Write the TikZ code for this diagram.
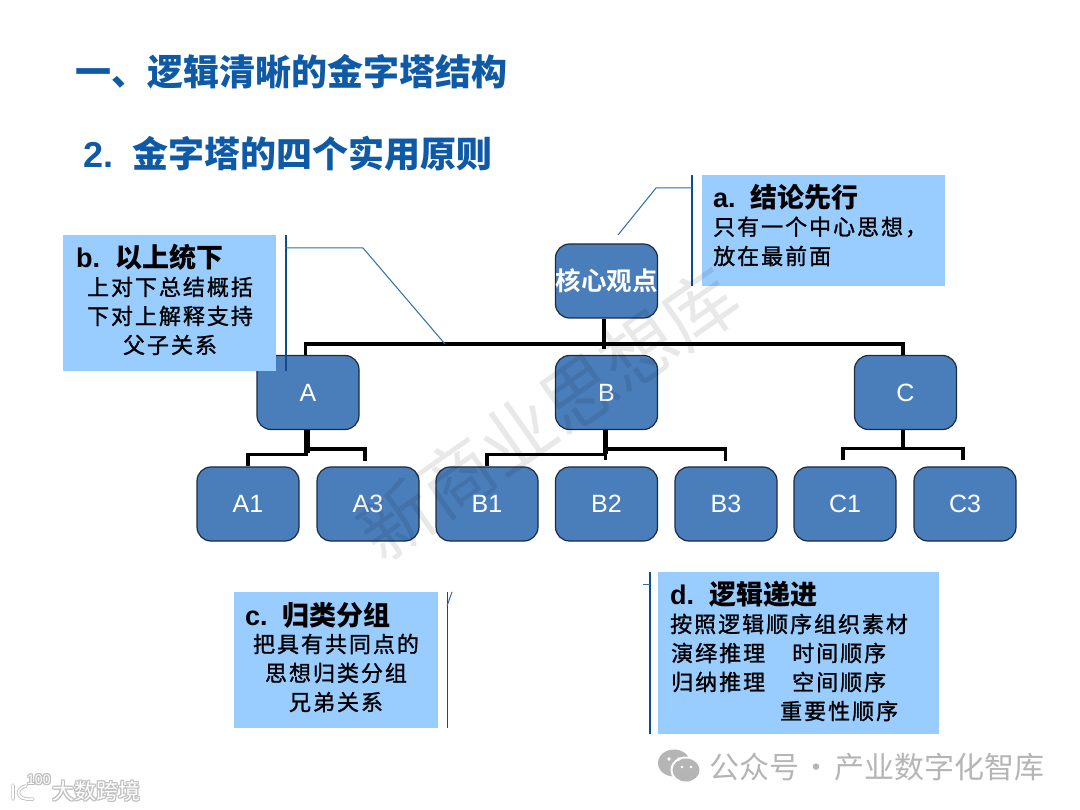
\documentclass[tikz,border=0pt]{standalone}
\usepackage{fontspec}
\setmainfont{Liberation Sans}
\newfontfamily\cjk{Noto Sans CJK SC}
\newfontfamily\cjkb{Noto Sans CJK SC Bold}
\newfontfamily\bodyf[LetterSpace=9,FakeBold=1.2]{Noto Sans CJK SC}
\definecolor{titleblue}{HTML}{0F5AA6}
\definecolor{boxblue}{HTML}{4A7EBB}
\definecolor{boxline}{HTML}{1C2B3F}
\definecolor{callblue}{HTML}{99CCFF}
\definecolor{barblue}{HTML}{2E6CA8}
\definecolor{wmgrey}{HTML}{B5B5B5}
\tikzset{
  x=1pt,y=-1pt,
  titletext/.style={anchor=west,inner sep=0,text=titleblue,font=\fontsize{36}{36}\selectfont\bfseries},
  orgbox/.style={draw=boxline,line width=1.2pt,fill=boxblue,rounded corners=14pt,minimum width=102pt,minimum height=74pt,inner sep=0,text=white,font=\fontsize{25}{25}\selectfont},
  callout/.style={fill=callblue,inner sep=0,anchor=north west},
  headtext/.style={anchor=west,inner sep=0,text=black,font=\fontsize{27}{27}\selectfont\bfseries},
  bodytext/.style={anchor=center,inner sep=0,text=black,font=\fontsize{22}{22}\selectfont\bodyf},
  treeline/.style={draw=black,line width=3.5pt,line cap=butt},
  thickstem/.style={draw=black,line width=5.5pt},
  leader/.style={draw=barblue,line width=1pt},
  bar/.style={draw=titleblue!85!black,line width=1.5pt},
}
\begin{document}
\begin{tikzpicture}
\useasboundingbox (0,0) rectangle (1080,810);
\fill[white] (0,0) rectangle (1080,810);
% titles
\node[titletext] (t1) at (75,72) {{\cjkb 一、逻辑清晰的金字塔结构}};
\node[titletext] (t2) at (83,154) {2.\hspace{19pt}{\cjkb 金字塔的四个实用原则}};
% org nodes
\node[orgbox] (root) at (606.5,281) {{\cjkb\fontsize{25.5}{25.5}\selectfont 核心观点}};
\node[orgbox] (A) at (308,392.5) {A};
\node[orgbox] (B) at (606.5,392.5) {B};
\node[orgbox] (C) at (905.5,392.5) {C};
\node[orgbox] (A1) at (248,504) {A1};
\node[orgbox] (A3) at (368,504) {A3};
\node[orgbox] (B1) at (487,504) {B1};
\node[orgbox] (B2) at (606.5,504) {B2};
\node[orgbox] (B3) at (726,504) {B3};
\node[orgbox] (C1) at (845,504) {C1};
\node[orgbox] (C3) at (965,504) {C3};
% level 1 connectors
\draw[treeline] ([xshift=-2.5pt]root.south) -- ++(0,30);
\draw[treeline] ([xshift=-2.5pt]A.north) -- ++(0,-11) -| ([xshift=-2.5pt]C.north);
% A group
\draw[thickstem] ([xshift=-1pt]A.south) -- ++(0,23);
\draw[treeline] (A1.north) -- ++(0,-12) -- ++(60,0);
\draw[treeline] ([xshift=-1pt,yshift=-19pt]A.south) -- ++(58,0) -- ++(0,12);
% B group
\draw[thickstem] ([xshift=-1pt]B.south) -- ++(0,24);
\draw[treeline] ([xshift=-1pt]B.south) -- ++(0,30);
\draw[treeline] (B1.north) -- ++(0,-12) -- ++(118,0);
\draw[treeline] ([xshift=-1pt,yshift=-19pt]B.south) -- ++(120,0) -- ++(0,12);
% C group
\draw[treeline] ([xshift=-2.5pt]C.south) -- ++(0,19);
\draw[treeline] ([xshift=-2pt,yshift=6pt]C1.north) -- ++(0,-12) -| ([xshift=-2pt,yshift=6pt]C3.north);
% callouts
\node[callout,minimum width=243pt,minimum height=111pt] (ca) at (702,175) {};
\node[callout,minimum width=213pt,minimum height=136pt] (cb) at (63,235) {};
\node[callout,minimum width=204pt,minimum height=136pt] (cc) at (234,592) {};
\node[callout,minimum width=281pt,minimum height=162pt] (cd) at (658,572) {};
% callout bars and leaders
\draw[bar] (ca.north west) ++(-10,0) -- ++(0,111);
\coordinate (al1) at (656,188);
\coordinate (al2) at (618,235);
\draw[leader] (692,188) -- (al1) -- (al2);
\draw[bar] (cb.north east) ++(9.5,0) -- ++(0,136);
\coordinate (bl1) at (363,248);
\coordinate (bl2) at (445,344);
\draw[leader] (285,248) -- (bl1) -- (bl2);
\draw[bar] (cc.north east) ++(9,0) -- ++(0,136);
\coordinate (cl1) at (452,592);
\draw[leader] (447,606) -- (cl1);
\draw[bar] (cd.north west) ++(-8,0) -- ++(0,162);
\coordinate (dl1) at (643,584);
\draw[leader] (650,584) -- (dl1);
% callout text
\node[headtext] (ha) at (713,197) {a.\ \ {\cjkb 结论先行}};
\node[bodytext,anchor=west] (a1) at (713,227) {只有一个中心思想，};
\node[bodytext,anchor=west] (a2) at (713,256) {放在最前面};
\node[headtext] (hb) at (76,257) {b.\ \ {\cjkb 以上统下}};
\node[bodytext] (b1) at (170,287) {上对下总结概括};
\node[bodytext] (b2) at (170,316) {下对上解释支持};
\node[bodytext] (b3) at (170,345) {父子关系};
\node[headtext] (hc) at (245,615) {c.\ \ {\cjkb 归类分组}};
\node[bodytext] (c1) at (336,644) {把具有共同点的};
\node[bodytext] (c2) at (336,673) {思想归类分组};
\node[bodytext] (c3) at (336,702) {兄弟关系};
\node[headtext] (hd) at (670,594) {d.\ \ {\cjkb 逻辑递进}};
\node[bodytext,anchor=west] (d1) at (670,624) {按照逻辑顺序组织素材};
\node[bodytext,anchor=west] (d2) at (671,653) {演绎推理};
\node[bodytext,anchor=west] (d2b) at (792,653) {时间顺序};
\node[bodytext,anchor=west] (d3) at (671,682) {归纳推理};
\node[bodytext,anchor=west] (d3b) at (792,682) {空间顺序};
\node[bodytext,anchor=west] (d4) at (780,711) {重要性顺序};
% diagonal watermark
\node[rotate=35,inner sep=0,text=black,text opacity=0.09,font=\fontsize{74}{74}\selectfont\cjk] (wm) at (548,414) {新商业思想库};
% bottom-right mark
\begin{scope}[wmgrey]
\fill (674,763) ellipse (16pt and 13.5pt);
\fill[white] (686,770) ellipse (15.5pt and 13.5pt);
\fill (686,770) ellipse (13.5pt and 11.5pt);
\fill[white] (669,759) circle (1.8pt) (679,759) circle (1.8pt) (682,767) circle (1.4pt) (691,767) circle (1.4pt);
\end{scope}
\node[anchor=west,inner sep=0,text=wmgrey,font=\fontsize{30}{30}\selectfont\cjk] (gzh) at (709,767) {公众号\hspace{-4pt} · \hspace{-4pt}产业数字化智库};
% bottom-left mark
\foreach \dx/\dy in {-1/0,1/0,0/-1,0/1,-1/-1,1/1,-1/1,1/-1}{
  \node[anchor=west,inner sep=0,text=black!25,font=\fontsize{22}{22}\selectfont\cjk] at (52+\dx,791+\dy) {大数跨境};
  \node[anchor=west,inner sep=0,text=black!25,font=\fontsize{14}{14}\selectfont] at (27+\dx,780+\dy) {100};
}
\node[anchor=west,inner sep=0,text=white,font=\fontsize{22}{22}\selectfont\cjk] (dskj) at (52,791) {大数跨境};
\node[anchor=west,inner sep=0,text=white,font=\fontsize{14}{14}\selectfont] (oo) at (27,780) {100};
\draw[black!25,line width=3.5pt,line cap=round] (13,785) -- (13,799) (26,786) .. controls (15,788) and (15,801) .. (33,799);
\draw[white,line width=1.8pt,line cap=round] (13,785) -- (13,799) (26,786) .. controls (15,788) and (15,801) .. (33,799);
\end{tikzpicture}
\end{document}
